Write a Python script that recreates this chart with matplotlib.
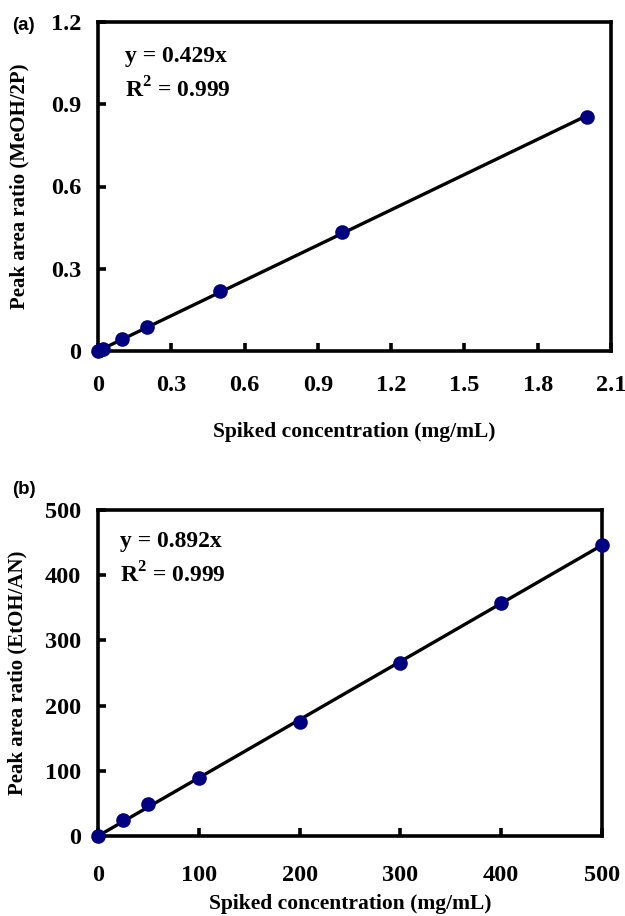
import matplotlib
matplotlib.use("Agg")
import matplotlib.pyplot as plt
import numpy as np

plt.rcParams['mathtext.fontset'] = 'custom'
plt.rcParams['mathtext.rm'] = 'Liberation Serif:bold'
plt.rcParams['mathtext.bf'] = 'Liberation Serif:bold'

# panel (a): methanol / 2-propanol
conc_a = [0, 0.01, 0.02, 0.1, 0.2, 0.5, 1.0, 2.0]
ratio_a = [0, 0.004, 0.009, 0.045, 0.088, 0.218, 0.434, 0.855]
slope_a = 0.429
xticks_a = [0, 0.3, 0.6, 0.9, 1.2, 1.5, 1.8, 2.1]
xticklabels_a = ['0', '0.3', '0.6', '0.9', '1.2', '1.5', '1.8', '2.1']
yticks_a = [0, 0.3, 0.6, 0.9, 1.2]
yticklabels_a = ['0', '0.3', '0.6', '0.9', '1.2']

# panel (b): ethanol / acetonitrile
conc_b = [0, 25, 50, 100, 200, 300, 400, 500]
ratio_b = [0, 24.5, 49, 89, 175, 266, 358, 446]
slope_b = 0.892
xticks_b = [0, 100, 200, 300, 400, 500]
yticks_b = [0, 100, 200, 300, 400, 500]

serif = 'Liberation Serif'
W, H = 625, 916
fig = plt.figure(figsize=(W / 100, H / 100), dpi=100)


def px_axes(left, top, right, bottom):
    return fig.add_axes([left / W, 1 - bottom / H, (right - left) / W, (bottom - top) / H])


def style(ax, xpad):
    for s in ax.spines.values():
        s.set_linewidth(2.6)
    ax.tick_params(direction='in', length=6, width=2.6, top=False, right=False)
    ax.tick_params(axis='x', pad=xpad)
    ax.tick_params(axis='y', pad=12)
    for lab in ax.get_xticklabels() + ax.get_yticklabels():
        lab.set_fontfamily(serif)
        lab.set_fontweight('bold')
        lab.set_fontsize(17.5)


def draw(ax, x, y, slope):
    xs = np.array([0, max(x)])
    ax.plot(xs, slope * xs, color='black', lw=2.4, zorder=3, clip_on=False)
    ax.plot(x, y, 'o', color='#000080', ms=9.5, zorder=4, clip_on=False)


def equation(ax, x, y1, y2, eq):
    ax.text(x, y1, eq, transform=ax.transAxes, fontfamily=serif,
            fontweight='bold', fontsize=17, va='center')
    ax.text(x, y2, r'R$^{\mathbf{2}}$ = 0.999', transform=ax.transAxes, fontfamily=serif,
            fontweight='bold', fontsize=17, va='center')


# (a)
ax1 = px_axes(98, 22, 611, 351)
draw(ax1, conc_a, ratio_a, slope_a)
ax1.set_xlim(0, 2.1)
ax1.set_ylim(0, 1.2)
ax1.set_xticks(xticks_a)
ax1.set_xticklabels(xticklabels_a)
ax1.set_yticks(yticks_a)
ax1.set_yticklabels(yticklabels_a)
style(ax1, 17)
ax1.set_xlabel('Spiked concentration (mg/mL)', fontfamily=serif, fontweight='bold', fontsize=15.5)
ax1.xaxis.set_label_coords(0.5, -(422 - 351) / 329)
ax1.set_ylabel('Peak area ratio (MeOH/2P)', fontfamily=serif, fontweight='bold', fontsize=15)
ax1.yaxis.set_label_coords(-(98 - 29) / 513, 0.5)
equation(ax1, 0.053, 0.894, 0.793, 'y = 0.429x')
fig.text(12 / W, 1 - 25 / H, '(a)', fontfamily='Liberation Sans', fontweight='bold',
         fontsize=13.5, va='center')

# (b)
ax2 = px_axes(98, 510, 602, 836)
draw(ax2, conc_b, ratio_b, slope_b)
ax2.set_xlim(0, 500)
ax2.set_ylim(0, 500)
ax2.set_xticks(xticks_b)
ax2.set_yticks(yticks_b)
style(ax2, 21)
ax2.set_xlabel('Spiked concentration (mg/mL)', fontfamily=serif, fontweight='bold', fontsize=15.5)
ax2.xaxis.set_label_coords(0.5, -(894 - 836) / 326)
ax2.set_ylabel('Peak area ratio (EtOH/AN)', fontfamily=serif, fontweight='bold', fontsize=15)
ax2.yaxis.set_label_coords(-(98 - 27) / 504, 0.5)
equation(ax2, 0.044, 0.902, 0.80, 'y = 0.892x')
fig.text(12 / W, 1 - 490 / H, '(b)', fontfamily='Liberation Sans', fontweight='bold',
         fontsize=13.5, va='center')

fig.savefig('out.png', dpi=100)
